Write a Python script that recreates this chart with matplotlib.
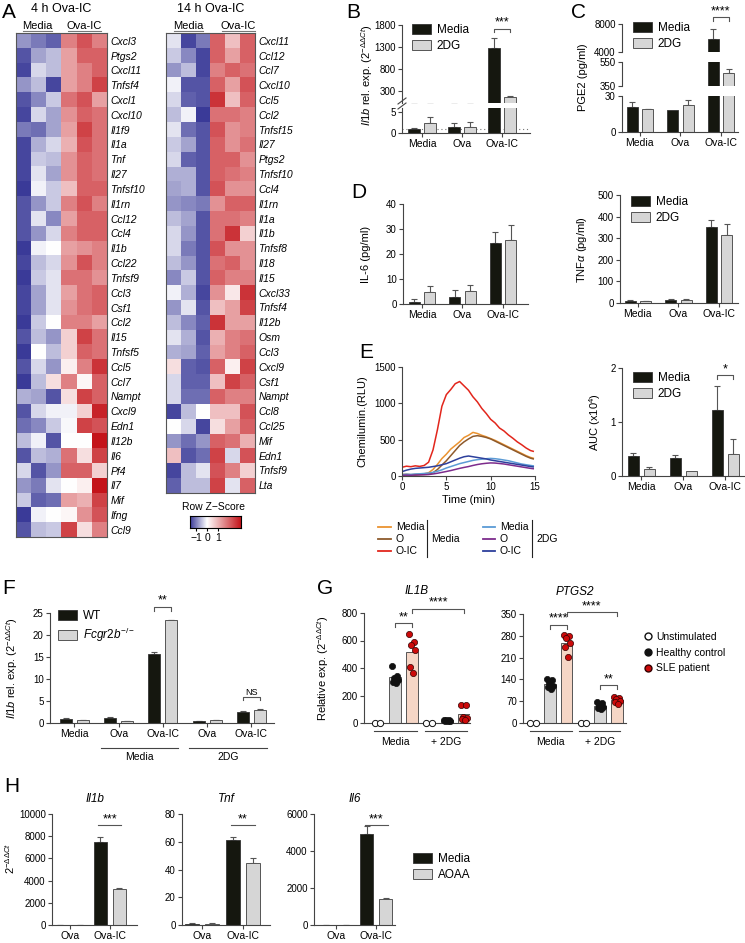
import numpy as np
import matplotlib
matplotlib.use("Agg")
import matplotlib.pyplot as plt
from matplotlib.lines import Line2D
from matplotlib.patches import Patch
from matplotlib.colors import LinearSegmentedColormap, Normalize, TwoSlopeNorm

plt.rcParams['font.family'] = ['Liberation Sans', 'DejaVu Sans']
plt.rcParams['mathtext.fontset'] = 'custom'
plt.rcParams['mathtext.rm'] = 'Liberation Sans'
plt.rcParams['mathtext.it'] = 'Liberation Sans:italic'
plt.rcParams['mathtext.bf'] = 'Liberation Sans:bold'

# ---------------- DATA ----------------
# Panel A heatmaps (row z-scores; columns: Media x3, Ova-IC x3)
genes_4h = ['Cxcl3', 'Ptgs2', 'Cxcl11', 'Tnfsf4', 'Cxcl1', 'Cxcl10', 'Il1f9', 'Il1a', 'Tnf', 'Il27',
            'Tnfsf10', 'Il1rn', 'Ccl12', 'Ccl4', 'Il1b', 'Ccl22', 'Tnfsf9', 'Ccl3', 'Csf1', 'Ccl2',
            'Il15', 'Tnfsf5', 'Ccl5', 'Ccl7', 'Nampt', 'Cxcl9', 'Edn1', 'Il12b', 'Il6', 'Pf4',
            'Il7', 'Mif', 'Ifng', 'Ccl9']
z_4h = [
    [-0.8, -1.0, -1.2, 0.8, 1.1, 0.8],
    [-1.3, -0.7, -0.5, 0.6, 1.0, 1.0],
    [-1.4, -0.3, -0.5, 0.6, 0.8, 1.0],
    [-0.8, -0.5, -1.4, 0.6, 0.8, 1.2],
    [-1.3, -0.9, -0.4, 0.9, 1.1, 0.6],
    [-1.4, -0.3, -0.7, 0.7, 1.0, 0.9],
    [-1.0, -1.1, -0.7, 0.6, 1.2, 0.9],
    [-1.4, -0.6, -0.3, 0.5, 1.1, 0.9],
    [-1.4, -0.4, -0.5, 0.7, 1.0, 0.9],
    [-1.4, -0.2, -0.7, 0.7, 1.0, 0.9],
    [-1.5, -0.1, -0.4, 0.4, 1.0, 1.0],
    [-1.3, -0.8, -0.4, 0.8, 1.1, 0.8],
    [-1.3, -0.2, -0.9, 0.6, 1.0, 1.0],
    [-1.3, -0.8, -0.3, 0.8, 1.0, 1.0],
    [-1.5, -0.1, 0.0, 0.6, 0.7, 0.8],
    [-1.4, -0.5, -0.3, 0.7, 1.1, 0.8],
    [-1.5, -0.4, -0.2, 0.9, 0.9, 0.7],
    [-1.4, -0.7, -0.2, 0.6, 0.9, 1.0],
    [-1.4, -0.7, -0.2, 0.7, 0.9, 1.0],
    [-1.5, -0.4, 0.0, 0.8, 0.8, 0.6],
    [-1.3, -0.5, -0.8, 0.3, 1.2, 0.9],
    [-1.5, 0.0, -0.5, 0.3, 1.0, 0.9],
    [-1.3, -0.3, -0.8, 0.1, 0.8, 1.3],
    [-1.5, -0.5, 0.2, 0.8, 0.05, 1.0],
    [-0.6, -0.7, -1.3, 0.2, 1.2, 1.0],
    [-1.3, -0.3, -0.1, -0.1, 0.3, 1.4],
    [-1.1, -0.9, -0.4, -0.05, 1.2, 1.1],
    [-0.5, -0.1, -1.3, 0.0, 0.0, 1.5],
    [-1.3, -0.5, -0.6, 0.9, 0.2, 1.2],
    [-0.3, -1.3, -0.8, 1.0, 1.0, 0.3],
    [-0.8, -1.0, -0.2, 0.0, 0.1, 1.5],
    [-0.4, -1.2, -1.1, 0.6, 0.5, 1.2],
    [-1.5, -0.1, 0.0, 0.05, 0.7, 1.1],
    [-1.3, -0.5, -0.4, 1.2, 0.2, 0.8],
]
genes_14h = ['Cxcl11', 'Ccl12', 'Ccl7', 'Cxcl10', 'Ccl5', 'Ccl2', 'Tnfsf15', 'Il27', 'Ptgs2', 'Tnfsf10',
             'Ccl4', 'Il1rn', 'Il1a', 'Il1b', 'Tnfsf8', 'Il18', 'Il15', 'Cxcl33', 'Tnfsf4', 'Il12b',
             'Osm', 'Ccl3', 'Cxcl9', 'Csf1', 'Nampt', 'Ccl8', 'Ccl25', 'Mif', 'Edn1', 'Tnfsf9', 'Lta']
z_14h = [
    [-0.2, -1.4, -1.0, 1.0, 0.4, 1.0],
    [-0.4, -0.9, -1.4, 1.0, 0.6, 1.0],
    [-0.8, -0.5, -1.4, 0.8, 1.0, 0.9],
    [-0.1, -1.3, -1.3, 1.0, 0.6, 1.1],
    [-0.3, -1.2, -1.3, 1.3, 0.4, 1.0],
    [-0.5, -0.1, -1.5, 0.9, 0.9, 0.8],
    [-0.2, -1.1, -1.3, 1.1, 0.7, 0.8],
    [-0.4, -0.7, -1.3, 1.0, 0.7, 0.9],
    [-0.3, -1.2, -1.3, 1.0, 1.0, 0.7],
    [-0.6, -0.6, -1.3, 1.0, 0.9, 0.8],
    [-0.7, -0.6, -1.3, 1.1, 0.7, 0.7],
    [-0.8, -0.9, -1.0, 0.7, 1.0, 1.0],
    [-0.5, -0.7, -1.3, 0.9, 0.9, 0.8],
    [-0.3, -0.8, -1.3, 0.9, 1.3, 0.3],
    [-0.3, -1.0, -1.3, 1.1, 0.7, 0.7],
    [-0.5, -0.8, -1.3, 0.9, 1.0, 0.7],
    [-0.9, -0.4, -1.3, 1.0, 0.8, 0.8],
    [-0.1, -0.6, -1.4, 0.7, 0.15, 1.3],
    [-0.8, -0.2, -1.3, 0.4, 0.6, 1.2],
    [-0.5, -0.9, -1.2, 1.3, 0.6, 0.6],
    [-0.2, -0.6, -1.3, 0.5, 0.8, 0.9],
    [-0.6, -0.7, -1.2, 0.6, 0.8, 1.0],
    [0.2, -1.2, -1.3, 1.0, 0.1, 1.2],
    [-0.3, -1.2, -1.2, 0.4, 1.2, 1.0],
    [-0.3, -1.1, -1.1, 1.0, 0.8, 0.8],
    [-1.4, -0.5, 0.0, 0.4, 0.4, 1.1],
    [0.0, -0.3, -1.4, 0.2, 0.6, 1.0],
    [-0.8, -1.1, -0.8, 1.0, 0.9, 0.5],
    [0.4, -1.3, -1.1, 1.2, -0.3, 1.1],
    [-1.4, -0.5, -0.2, 1.1, 0.8, 0.3],
    [-1.2, -0.5, -0.5, 1.2, -0.2, 1.0],
]

groups3 = ['Media', 'Ova', 'Ova-IC']
# B: Il1b rel. exp.
b_media = [0.9, 1.4, 1280]
b_media_err = [0.2, 1.0, 225]
b_2dg = [2.4, 1.5, 170]
b_2dg_err = [1.4, 1.1, 15]
# C: PGE2
c_media = [20.8, 18.3, 5800]
c_media_err = [4.2, 0.0, 1500]
c_2dg = [19.0, 22.5, 458]
c_2dg_err = [0.3, 4.2, 32]
# D: IL-6
d_media = [1.0, 2.8, 24.5]
d_media_err = [1.2, 3.0, 4.5]
d_2dg = [5.0, 5.3, 25.5]
d_2dg_err = [2.2, 2.5, 6.0]
# D right: TNFa
t_media = [10, 13, 353]
t_media_err = [4, 7, 31]
t_2dg = [7, 12, 315]
t_2dg_err = [2, 7, 51]
# E: chemiluminescence time course
time_min = [0, 0.5, 1, 1.5, 2, 2.5, 3, 3.5, 4, 4.5, 5, 5.5, 6, 6.5, 7, 7.5, 8, 8.5, 9, 9.5,
            10, 10.5, 11, 11.5, 12, 12.5, 13, 13.5, 14, 14.5, 14.8]
cl_media_media = [20, 25, 18, 22, 28, 30, 45, 90, 160, 240, 300, 370, 420, 470, 530, 560, 600, 585, 560, 540,
                  515, 490, 460, 430, 400, 370, 340, 310, 280, 255, 245]
cl_media_o = [10, 12, 15, 12, 18, 20, 25, 45, 90, 150, 210, 280, 350, 420, 470, 510, 545, 555, 545, 530,
              510, 480, 450, 420, 390, 360, 330, 300, 270, 245, 235]
cl_media_oic = [120, 135, 128, 140, 132, 145, 190, 360, 640, 960, 1120, 1190, 1270, 1300, 1240, 1180, 1090, 1020, 930, 860,
                780, 730, 660, 620, 565, 520, 470, 430, 385, 350, 340]
cl_2dg_media = [20, 25, 22, 28, 30, 35, 40, 50, 65, 85, 110, 130, 150, 170, 185, 200, 215, 225, 232, 238,
                242, 238, 230, 220, 210, 195, 180, 165, 155, 145, 140]
cl_2dg_o = [10, 12, 10, 14, 15, 18, 20, 28, 38, 50, 62, 75, 90, 105, 118, 130, 145, 158, 168, 175,
            180, 178, 172, 165, 155, 145, 135, 125, 115, 105, 100]
cl_2dg_oic = [60, 80, 95, 105, 110, 115, 120, 130, 140, 155, 170, 195, 220, 245, 265, 275, 265, 255, 245, 235,
              220, 210, 200, 190, 180, 170, 160, 150, 140, 130, 125]
# E right: AUC (x10^4)
auc_media = [0.37, 0.33, 1.22]
auc_media_err = [0.06, 0.05, 0.45]
auc_2dg = [0.13, 0.10, 0.40]
auc_2dg_err = [0.04, 0.0, 0.29]
# F: WT vs Fcgr2b-/-
f_labels = ['Media', 'Ova', 'Ova-IC', 'Ova', 'Ova-IC']
f_wt = [1.0, 1.2, 15.6, 0.5, 2.4]
f_wt_err = [0.05, 0.1, 0.6, 0.05, 0.3]
f_ko = [0.7, 0.5, 23.3, 0.6, 3.0]
f_ko_err = [0.05, 0.05, 0.1, 0.05, 0.1]
# G: human monocytes
g_unstim = [0, 0]
il1b_hc_media = [415, 342, 327, 313, 298, 291]
il1b_sle_media = [647, 591, 567, 531, 410, 366]
il1b_hc_2dg = [25, 22, 20, 18, 16, 15]
il1b_sle_2dg = [130, 130, 45, 40, 30, 20]
ptgs2_hc_media = [142, 138, 130, 120, 115, 108]
ptgs2_sle_media = [282, 280, 272, 258, 245, 212]
ptgs2_hc_2dg = [68, 65, 58, 52, 48, 44]
ptgs2_sle_2dg = [82, 80, 76, 70, 66, 62]
# H: AOAA
h_groups = ['Ova', 'Ova-IC']
h_il1b_media = [2, 7450]
h_il1b_media_err = [1, 450]
h_il1b_aoaa = [2, 3250]
h_il1b_aoaa_err = [1, 120]
h_tnf_media = [0.8, 61.5]
h_tnf_media_err = [0.3, 2.0]
h_tnf_aoaa = [1.0, 45]
h_tnf_aoaa_err = [0.3, 3.0]
h_il6_media = [2, 4900]
h_il6_media_err = [1, 450]
h_il6_aoaa = [2, 1420]
h_il6_aoaa_err = [1, 40]

# ---------------- STYLE / HELPERS ----------------
W, H = 745, 943
fig = plt.figure(figsize=(W / 100, H / 100), dpi=100)
SPC = '#444444'
BLK = '#15170f'
GRY = '#d6d6d6'
EDG = '#333333'
TFS = 7
LFS = 8


def axpx(x0, y0, x1, y1):
    return fig.add_axes([x0 / W, 1 - y1 / H, (x1 - x0) / W, (y1 - y0) / H])


def ftext(x, y, s, **kw):
    kw.setdefault('ha', 'center')
    kw.setdefault('va', 'center')
    fig.text(x / W, 1 - y / H, s, **kw)


def fline(xs, ys, **kw):
    kw.setdefault('color', SPC)
    kw.setdefault('lw', 0.8)
    fig.add_artist(Line2D([x / W for x in xs], [1 - y / H for y in ys], transform=fig.transFigure, **kw))


def style(ax, bottom=True):
    for s in ['top', 'right']:
        ax.spines[s].set_visible(False)
    for s in ['left', 'bottom']:
        ax.spines[s].set_color(SPC)
        ax.spines[s].set_linewidth(0.8)
    if not bottom:
        ax.spines['bottom'].set_visible(False)
        ax.tick_params(axis='x', bottom=False, labelbottom=False)
    ax.tick_params(labelsize=TFS, length=3, width=0.8, color=SPC, pad=1.5)
    ax.patch.set_alpha(0)


def errs(ax, x, v, e):
    x = np.asarray(x, float); v = np.asarray(v, float); e = np.asarray(e, float)
    m = e > 0
    if m.any():
        ax.errorbar(x[m], v[m], yerr=[np.zeros(m.sum()), e[m]], fmt='none', ecolor='#555555',
                    elinewidth=0.8, capsize=2.2, capthick=0.8, zorder=1)


def barpair(ax, v1, e1, v2, e2, w, off, c2=GRY):
    x = np.arange(len(v1))
    errs(ax, x - off, v1, e1)
    errs(ax, x + off, v2, e2)
    ax.bar(x - off, v1, w, color=BLK, edgecolor=EDG, lw=0.6, zorder=2)
    ax.bar(x + off, v2, w, color=c2, edgecolor='#555555', lw=0.7, zorder=2)


def bracket(ax, x0, x1, y, h, txt, fs=9, ends=True):
    if ends:
        ax.plot([x0, x0, x1, x1], [y - h, y, y, y - h], color='#555555', lw=0.8, clip_on=False)
    else:
        ax.plot([x0, x1], [y, y], color='#555555', lw=0.8, clip_on=False)
    ax.text((x0 + x1) / 2, y, txt, ha='center', va='bottom', fontsize=fs, clip_on=False)


def barlegend(x, y, labels, fs=8.5, c2=GRY):
    hs = [Patch(facecolor=BLK, edgecolor=EDG, lw=0.6, label=labels[0]),
          Patch(facecolor=c2, edgecolor='#555555', lw=0.7, label=labels[1])]
    fig.legend(handles=hs, loc='upper left', bbox_to_anchor=(x / W, 1 - y / H), frameon=False,
               fontsize=fs, handlelength=1.6, handleheight=0.9, labelspacing=0.35,
               borderpad=0, borderaxespad=0, handletextpad=0.5)


def panel(x, y, s):
    ftext(x, y, s, fontsize=15, ha='left')


# ---------------- A: heatmaps ----------------
cmap = LinearSegmentedColormap.from_list('bwr2', ['#3a3a98', '#ffffff', '#c4141a'])
hnorm = Normalize(-1.5, 1.5)


def heat(x0, y0, x1, y1, z, genes):
    ax = axpx(x0, y0, x1, y1)
    ax.imshow(np.array(z), cmap=cmap, norm=hnorm, aspect='auto', interpolation='nearest')
    ax.set_xticks([])
    ax.set_yticks(np.arange(len(genes)))
    ax.set_yticklabels(genes, fontsize=7.5, style='italic')
    ax.yaxis.tick_right()
    ax.tick_params(axis='y', length=0, pad=2.5)
    for s in ax.spines.values():
        s.set_color('#555555')
        s.set_linewidth(0.8)
    return ax


heat(16, 33.3, 107, 537.3, z_4h, genes_4h)
heat(166, 33.3, 255, 492.7, z_14h, genes_14h)
panel(2, 13, 'A')
ftext(61, 9, '4 h Ova-IC', fontsize=9)
ftext(37, 26, 'Media', fontsize=8)
fline([23, 52], [31, 31], color='#777777')
ftext(84, 26, 'Ova-IC', fontsize=8)
fline([68, 101], [31, 31], color='#777777')
ftext(211, 9, '14 h Ova-IC', fontsize=9)
ftext(188, 26, 'Media', fontsize=8)
fline([174, 203], [31, 31], color='#777777')
ftext(238, 26, 'Ova-IC', fontsize=8)
fline([222, 255], [31, 31], color='#777777')

# colorbar
cax = axpx(190, 516, 241, 528)
cb_lo, cb_hi = -1.55, 3.1
grad = np.linspace(cb_lo, cb_hi, 256)[None, :]
cax.imshow(grad, cmap=cmap, norm=TwoSlopeNorm(vmin=cb_lo, vcenter=0, vmax=cb_hi), aspect='auto',
           extent=[cb_lo, cb_hi, 0, 1])
cax.set_yticks([])
cax.set_xticks([-1, 0, 1])
cax.set_xticklabels(['\u22121', '0', '1'], fontsize=7.5)
cax.tick_params(axis='x', length=2.5, pad=1, width=0.8)
for s in cax.spines.values():
    s.set_linewidth(0.8)
ftext(214, 507, 'Row Z\u2212Score', fontsize=7.5)

# ---------------- B: broken axis ----------------
W3, O3 = 0.28, 0.2
bu = axpx(402, 25, 530, 103)
bl = axpx(402, 108, 530, 133)
for ax in (bu, bl):
    barpair(ax, b_media, b_media_err, b_2dg, b_2dg_err, W3, O3)
    ax.set_xlim(-0.5, 2.7)
bu.set_ylim(28, 1800)
bu.set_yticks([300, 800, 1300, 1800])
style(bu, bottom=False)
bl.set_ylim(0, 6)
bl.set_yticks([0, 5])
bl.axhline(1, color='#777777', lw=0.8, ls=(0, (1, 2.5)), zorder=0)
style(bl)
bl.set_xticks(range(3))
bl.set_xticklabels(groups3, fontsize=LFS - 0.5)
bracket(bu, 2 - O3, 2 + O3, 1720, 70, '***')
fline([398, 406], [104, 98])
fline([398, 406], [109, 103])
panel(346, 13, 'B')
ftext(367, 75, r'$\it{Il1b}$ rel. exp. (2$^{-\Delta\Delta Ct}$)', fontsize=LFS, rotation=90)
barlegend(412, 24, ['Media', '2DG'])

# ---------------- C: PGE2 three segments ----------------
c_top = axpx(622, 24, 738, 52)
c_mid = axpx(622, 62, 738, 86)
c_bot = axpx(622, 96, 738, 132)
for ax in (c_top, c_mid, c_bot):
    barpair(ax, c_media, c_media_err, c_2dg, c_2dg_err, 0.27, 0.19)
    ax.set_xlim(-0.44, 2.42)
c_top.set_ylim(4000, 8000); c_top.set_yticks([4000, 8000])
c_mid.set_ylim(350, 550); c_mid.set_yticks([350, 550])
c_bot.set_ylim(0, 30); c_bot.set_yticks([0, 30])
style(c_top, bottom=False)
style(c_mid, bottom=False)
style(c_bot)
c_bot.set_xticks(range(3))
c_bot.set_xticklabels(groups3, fontsize=LFS - 0.5)
bracket(c_top, 2 - 0.19, 2 + 0.19, 8950, 450, '****')
panel(571, 12, 'C')
ftext(583, 77, 'PGE2 (pg/ml)', fontsize=LFS, rotation=90)
barlegend(633, 22, ['Media', '2DG'])

# ---------------- D: IL-6 & TNFa ----------------
dax = axpx(403, 204, 528, 304)
barpair(dax, d_media, d_media_err, d_2dg, d_2dg_err, 0.27, 0.19)
dax.set_xlim(-0.47, 2.62)
dax.set_ylim(0, 40)
dax.set_yticks([0, 10, 20, 30, 40])
style(dax)
dax.set_xticks(range(3)); dax.set_xticklabels(groups3, fontsize=LFS - 0.5)
panel(351, 193, 'D')
ftext(366, 254, 'IL-6 (pg/ml)', fontsize=LFS, rotation=90)

tax = axpx(620, 195, 738, 303)
barpair(tax, t_media, t_media_err, t_2dg, t_2dg_err, 0.27, 0.19)
tax.set_xlim(-0.44, 2.47)
tax.set_ylim(0, 500)
tax.set_yticks([0, 100, 200, 300, 400, 500])
style(tax)
tax.set_xticks(range(3)); tax.set_xticklabels(groups3, fontsize=LFS - 0.5)
ftext(582, 249, r'TNF$\alpha$ (pg/ml)', fontsize=LFS, rotation=90)
barlegend(631, 196, ['Media', '2DG'])

# ---------------- E: chemiluminescence ----------------
eax = axpx(402, 367, 535, 476)
series = [(cl_media_media, '#eb9330'), (cl_media_o, '#8e5a2c'), (cl_media_oic, '#e2261c'),
          (cl_2dg_media, '#5b9bd5'), (cl_2dg_o, '#7d2c8c'), (cl_2dg_oic, '#2d3f9c')]
for ys, col in series:
    eax.plot(time_min, ys, color=col, lw=1.1)
eax.set_xlim(0, 15)
eax.set_ylim(0, 1500)
eax.set_xticks([0, 5, 10, 15])
eax.set_yticks([0, 500, 1000, 1500])
style(eax)
eax.set_xlabel('Time (min)', fontsize=LFS, labelpad=2)
panel(359, 353, 'E')
ftext(362, 421, 'Chemilumin.(RLU)', fontsize=LFS, rotation=90)
# legend for E
leg_rows = [526.5, 538.5, 550.5]
for (lab, col), yy in zip([('Media', '#eb9330'), ('O', '#8e5a2c'), ('O-IC', '#e2261c')], leg_rows):
    fline([378, 391], [yy, yy], color=col, lw=1.3)
    ftext(396, yy, lab, fontsize=7.5, ha='left')
fline([427, 427], [520, 557], color='#222222', lw=0.8)
ftext(431, 538.5, 'Media', fontsize=7.5, ha='left')
for (lab, col), yy in zip([('Media', '#5b9bd5'), ('O', '#7d2c8c'), ('O-IC', '#2d3f9c')], leg_rows):
    fline([483, 495], [yy, yy], color=col, lw=1.3)
    ftext(500, yy, lab, fontsize=7.5, ha='left')
fline([532, 532], [520, 557], color='#222222', lw=0.8)
ftext(536, 538.5, '2DG', fontsize=7.5, ha='left')

aax = axpx(622, 368, 744, 476)
barpair(aax, auc_media, auc_media_err, auc_2dg, auc_2dg_err, 0.27, 0.19)
aax.set_xlim(-0.46, 2.44)
aax.set_ylim(0, 2)
aax.set_yticks([0, 1, 2])
style(aax)
aax.set_xticks(range(3)); aax.set_xticklabels(groups3, fontsize=LFS - 0.5)
bracket(aax, 2 - 0.19, 2 + 0.19, 1.87, 0.07, '*')
ftext(595, 422, r'AUC (x10$^4$)', fontsize=LFS, rotation=90)
barlegend(633, 372, ['Media', '2DG'])

# ---------------- F ----------------
fax = axpx(50, 613, 274, 723)
barpair(fax, f_wt, f_wt_err, f_ko, f_ko_err, 0.27, 0.19)
fax.set_xlim(-0.55, 4.51)
fax.set_ylim(0, 25)
fax.set_yticks([0, 5, 10, 15, 20, 25])
style(fax)
fax.set_xticks(range(5)); fax.set_xticklabels(f_labels, fontsize=LFS - 0.5)
bracket(fax, 2 - 0.19, 2 + 0.19, 26.4, 1.0, '**')
bracket(fax, 4 - 0.19, 4 + 0.19, 6.0, 0.8, 'NS', fs=6.5)
trF = fax.get_xaxis_transform()
for (a, b, lab) in [(0.6, 2.35, 'Media'), (2.6, 4.35, '2DG')]:
    fax.plot([a, b], [-0.23, -0.23], color='#444444', lw=0.8, transform=trF, clip_on=False)
    fax.text((a + b) / 2, -0.31, lab, transform=trF, ha='center', va='center', fontsize=LFS - 0.5)
panel(2, 588, 'F')
ftext(12, 668, r'$\it{Il1b}$ rel. exp. (2$^{-\Delta\Delta Ct}$)', fontsize=LFS, rotation=90)
hsF = [Patch(facecolor=BLK, edgecolor=EDG, lw=0.6, label='WT'),
       Patch(facecolor=GRY, edgecolor='#555555', lw=0.7, label=r'$\it{Fcgr2b}^{-/-}$')]
fig.legend(handles=hsF, loc='upper left', bbox_to_anchor=(58 / W, 1 - 610 / H), frameon=False,
           fontsize=8.5, handlelength=1.6, handleheight=0.9, labelspacing=0.35,
           borderpad=0, borderaxespad=0, handletextpad=0.5)

# ---------------- G ----------------
HCB, SLEB = '#d8d8d8', '#f5d6c6'
RED = '#cc0a0a'
JIT = [-0.18, 0.12, -0.06, 0.18, -0.12, 0.06]


def gpanel(ax, hc_m, sle_m, hc_d, sle_d):
    vals = [hc_m, sle_m, hc_d, sle_d]
    pos = [1, 2, 4, 5]
    cols = [HCB, SLEB, HCB, SLEB]
    pcols = ['#111111', RED, '#111111', RED]
    for p, v, c, pc in zip(pos, vals, cols, pcols):
        ax.bar(p, np.mean(v), 0.7, color=c, edgecolor='#555555', lw=0.7, zorder=1)
        ax.scatter(p + np.array(JIT[:len(v)]), v, s=20, color=pc, edgecolor='#330000' if pc == RED else '#111111',
                   lw=0.5, zorder=3, clip_on=False)
    for p in (0, 3):
        ax.scatter(p + np.array([-0.17, 0.17]), g_unstim, s=20, facecolor='white', edgecolor='#111111',
                   lw=0.7, zorder=3, clip_on=False)
    style(ax)
    ax.set_xticks([])
    tr = ax.get_xaxis_transform()
    for (a, b, lab) in [(-0.2, 2.3, 'Media'), (2.75, 5.2, '+ 2DG')]:
        ax.plot([a, b], [-0.07, -0.07], color='#444444', lw=0.8, transform=tr, clip_on=False)
        ax.text((a + b) / 2, -0.17, lab, transform=tr, ha='center', va='center', fontsize=LFS - 0.5)


gl = axpx(364, 613, 470, 723)
gpanel(gl, il1b_hc_media, il1b_sle_media, il1b_hc_2dg, il1b_sle_2dg)
gl.set_xlim(-0.78, 5.35)
gl.set_ylim(0, 800)
gl.set_yticks([0, 200, 400, 600, 800])
bracket(gl, 1, 2, 727, 30, '**')
bracket(gl, 2, 5, 830, 30, '****')
gl.set_title('IL1B', fontsize=8.5, style='italic', pad=14)

gr = axpx(523, 614, 626, 723)
gpanel(gr, ptgs2_hc_media, ptgs2_sle_media, ptgs2_hc_2dg, ptgs2_sle_2dg)
gr.set_xlim(-0.6, 5.54)
gr.set_ylim(0, 350)
gr.set_yticks([0, 70, 140, 210, 280, 350])
bracket(gr, 1, 2, 315, 13, '****')
bracket(gr, 2, 5, 356, 13, '****')
bracket(gr, 4, 5, 122, 13, '**')
gr.set_title('PTGS2', fontsize=8.5, style='italic', pad=14)
panel(317, 588, 'G')
ftext(323, 668, r'Relative exp. (2$^{-\Delta\Delta Ct}$)', fontsize=LFS, rotation=90)
hsG = [Line2D([], [], ls='', marker='o', ms=5, mfc='white', mec='#111111', label='Unstimulated'),
       Line2D([], [], ls='', marker='o', ms=5, mfc='#111111', mec='#111111', label='Healthy control'),
       Line2D([], [], ls='', marker='o', ms=5, mfc=RED, mec='#330000', label='SLE patient')]
fig.legend(handles=hsG, loc='upper left', bbox_to_anchor=(644 / W, 1 - 632 / H), frameon=False,
           fontsize=7.5, handlelength=0.8, labelspacing=0.55, borderpad=0, borderaxespad=0,
           handletextpad=0.4)

# ---------------- H ----------------
def hpanel(rect, vm, em, va, ea, ylim, yticks, xlim, title, bry, stars):
    ax = axpx(*rect)
    barpair(ax, vm, em, va, ea, 0.33, 0.24)
    ax.set_xlim(*xlim)
    ax.set_ylim(*ylim)
    ax.set_yticks(yticks)
    style(ax)
    ax.set_xticks(range(2)); ax.set_xticklabels(h_groups, fontsize=LFS - 0.5)
    bracket(ax, 1 - 0.24 - 0.05, 1 + 0.24 + 0.05, bry, 0, stars, ends=False)
    ax.set_title(title, fontsize=8.5, style='italic', pad=9)
    return ax


hpanel((52, 814, 137, 925), h_il1b_media, h_il1b_media_err, h_il1b_aoaa, h_il1b_aoaa_err,
       (0, 10000), [0, 2000, 4000, 6000, 8000, 10000], (-0.45, 1.68), 'Il1b', 9000, '***')
hpanel((182, 814, 270, 925), h_tnf_media, h_tnf_media_err, h_tnf_aoaa, h_tnf_aoaa_err,
       (0, 80), [0, 20, 40, 60, 80], (-0.49, 1.66), 'Tnf', 72, '**')
hpanel((314, 814, 395, 925), h_il6_media, h_il6_media_err, h_il6_aoaa, h_il6_aoaa_err,
       (0, 6000), [0, 2000, 4000, 6000], (-0.55, 1.47), 'Il6', 5400, '***')
panel(4, 787, 'H')
ftext(10, 858, r'2$^{-\Delta\Delta Ct}$', fontsize=LFS, rotation=90)
hsH = [Patch(facecolor=BLK, edgecolor=EDG, lw=0.6, label='Media'),
       Patch(facecolor=GRY, edgecolor='#555555', lw=0.7, label='AOAA')]
fig.legend(handles=hsH, loc='upper left', bbox_to_anchor=(413 / W, 1 - 853 / H), frameon=False,
           fontsize=8.5, handlelength=1.6, handleheight=0.9, labelspacing=0.35,
           borderpad=0, borderaxespad=0, handletextpad=0.5)

fig.savefig('out.png', dpi=100)
